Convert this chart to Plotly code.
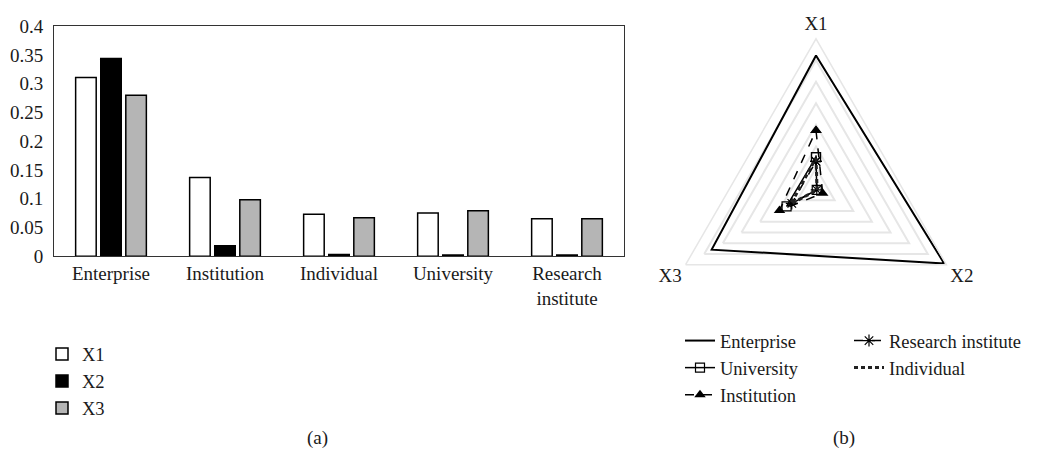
import plotly.graph_objects as go

# ---------------- data ----------------
categories = ["Enterprise", "Institution", "Individual", "University", "Research institute"]
tick_labels = ["Enterprise", "Institution", "Individual", "University", "Research<br>institute"]
x1 = [0.311, 0.137, 0.073, 0.075, 0.065]
x2 = [0.344, 0.018, 0.003, 0.002, 0.002]
x3 = [0.280, 0.098, 0.067, 0.079, 0.065]
series_names = ["X1", "X2", "X3"]
y_ticks = [0, 0.05, 0.1, 0.15, 0.2, 0.25, 0.3, 0.35, 0.4]
radar_axes = ["X1", "X2", "X3"]
radar_order = ["Enterprise", "University", "Institution", "Research institute", "Individual"]

W, H = 1042, 459
FONT = "Liberation Serif"
FS = 19
LFS = 18.5

fig = go.Figure()

bar_colors = ["#ffffff", "#000000", "#b5b5b5"]
for name, vals, col in zip(series_names, [x1, x2, x3], bar_colors):
    fig.add_trace(go.Bar(
        x=categories, y=vals, name=name,
        marker=dict(color=col, line=dict(color="#000000", width=1.5)),
        legend="legend", xaxis="x", yaxis="y",
    ))

# radar styles
styles = {
    "Enterprise": dict(line=dict(color="#000000", width=2, dash="solid"), mode="lines", marker=None, legend="legend2"),
    "University": dict(line=dict(color="#000000", width=1.5, dash="solid"), mode="lines+markers",
                       marker=dict(symbol="square-open", size=9, color="#000000", line=dict(width=1.2)), legend="legend2"),
    "Institution": dict(line=dict(color="#000000", width=1.5, dash="dash"), mode="lines+markers",
                        marker=dict(symbol="triangle-up", size=10, color="#000000"), legend="legend2"),
    "Research institute": dict(line=dict(color="#000000", width=1.5, dash="dash"), mode="lines+markers",
                               marker=dict(symbol="asterisk-open", size=10, color="#000000",
                                           line=dict(width=1.2, color="#000000")), legend="legend3"),
    "Individual": dict(line=dict(color="#222222", width=3, dash="4px,3px"), mode="lines", marker=None, legend="legend3"),
}

for cat in radar_order:
    i = categories.index(cat)
    r = [x1[i], x2[i], x3[i]]
    st = styles[cat]
    kw = dict(
        r=r + [r[0]], theta=radar_axes + [radar_axes[0]], name=cat,
        mode=st["mode"], line=st["line"], legend=st["legend"], subplot="polar",
    )
    if st["marker"] is not None:
        kw["marker"] = st["marker"]
    fig.add_trace(go.Scatterpolar(**kw))

# bar axes domain in pixels
px_l, px_r, px_t, px_b = 54, 624, 17, 258
# radar geometry
cx, cy, R = 816, 188, 157.8

fig.update_layout(
    width=W, height=H,
    margin=dict(l=0, r=0, t=0, b=0),
    paper_bgcolor="white", plot_bgcolor="white",
    font=dict(family=FONT, size=FS, color="#1a1a1a"),
    barmode="group", bargap=0.34, bargroupgap=0.18,
    xaxis=dict(
        domain=[px_l / W, px_r / W],
        tickvals=categories, ticktext=tick_labels,
        showline=True, mirror=True, linecolor="#333333", linewidth=1,
        ticks="", showgrid=False, tickfont=dict(size=FS),
    ),
    yaxis=dict(
        domain=[1 - px_b / H, 1 - px_t / H],
        range=[0, 0.4], tickvals=y_ticks,
        showline=True, mirror=True, linecolor="#333333", linewidth=1,
        ticks="", showgrid=False, zeroline=False, tickfont=dict(size=FS),
        ticklabelstandoff=6,
    ),
    polar=dict(
        domain=dict(x=[(cx - R) / W, (cx + R) / W], y=[1 - (cy + R) / H, 1 - (cy - R) / H]),
        gridshape="linear",
        bgcolor="white",
        radialaxis=dict(range=[0, 0.35], dtick=0.05, showticklabels=False, ticks="",
                        showline=False, gridcolor="#e6e6e6", gridwidth=1.5),
        angularaxis=dict(rotation=90, direction="clockwise", showgrid=False, ticks="",
                         showline=True, linecolor="#e6e6e6", linewidth=1.5,
                         tickfont=dict(size=FS)),
    ),
    legend=dict(x=42 / W, y=1 - 341 / H, xanchor="left", yanchor="top",
                bgcolor="rgba(0,0,0,0)", font=dict(size=LFS), tracegroupgap=0),
    legend2=dict(x=680 / W, y=1 - 327 / H, xanchor="left", yanchor="top",
                 bgcolor="rgba(0,0,0,0)", font=dict(size=LFS), tracegroupgap=0),
    legend3=dict(x=849 / W, y=1 - 327 / H, xanchor="left", yanchor="top",
                 bgcolor="rgba(0,0,0,0)", font=dict(size=LFS), tracegroupgap=0),
    annotations=[
        dict(text="(a)", x=317 / W, y=1 - 448 / H, xref="paper", yref="paper",
             showarrow=False, xanchor="center", yanchor="middle", font=dict(size=FS)),
        dict(text="(b)", x=844 / W, y=1 - 448 / H, xref="paper", yref="paper",
             showarrow=False, xanchor="center", yanchor="middle", font=dict(size=FS)),
    ],
)

fig.write_html(
    "out.html",
    config={"displayModeBar": False},
    post_script="document.body.style.margin='0';document.body.style.overflow='hidden';",
)
